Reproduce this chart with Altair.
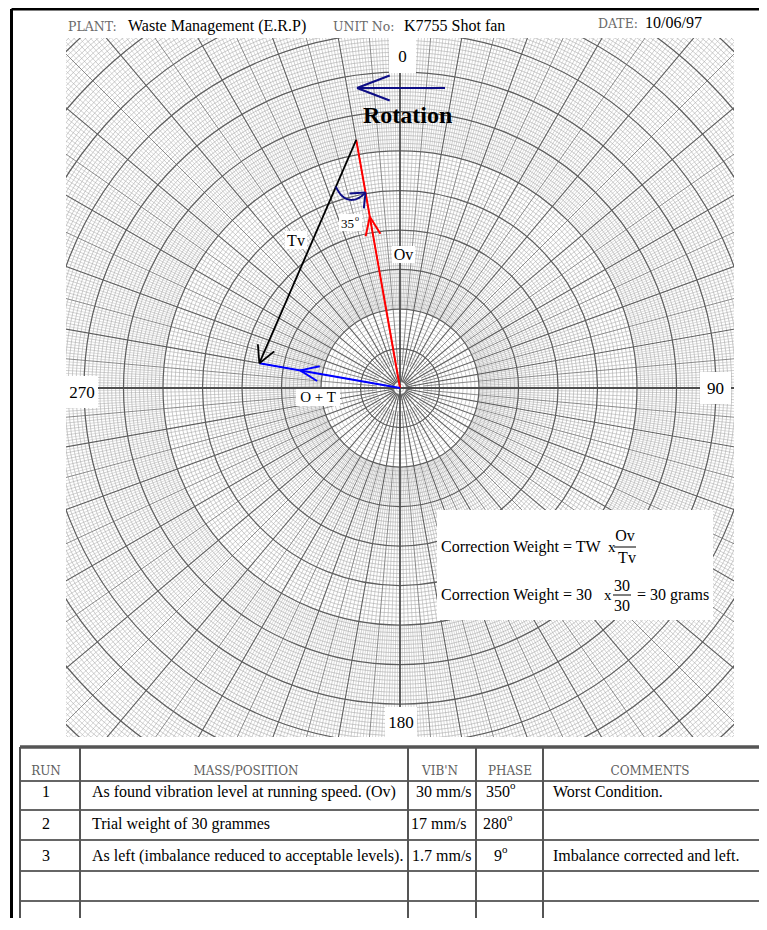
import numpy as np
import pandas as pd
import altair as alt

# ---------------- data ----------------
HEADER_FIELDS = ["PLANT:", "UNIT No:", "DATE:"]
HEADER_VALUES = ["Waste Management (E.R.P)", "K7755 Shot fan", "10/06/97"]
AXIS_ANGLES = [0, 90, 180, 270]
AXIS_LABELS = ["0", "90", "180", "270"]
VECTOR_NAMES = ["Ov", "O + T"]
VECTOR_MAGNITUDES = [30, 17]      # mm/s
VECTOR_PHASES = [350, 280]        # degrees
ROTATION_TEXT = "Rotation"
ANGLE_TEXT = "35"
FORMULA_LINE1 = "Correction Weight = TW"
FORMULA_LINE2 = "Correction Weight = 30"
FRACTION1 = ["Ov", "Tv"]
FRACTION2 = ["30", "30"]
FORMULA_RESULT = "= 30 grams"
TABLE_HEADERS = ["RUN", "MASS/POSITION", "VIB'N", "PHASE", "COMMENTS"]
RUN = ["1", "2", "3"]
MASS_POSITION = ["As found vibration level at running speed. (Ov)",
                 "Trial weight of 30 grammes",
                 "As left (imbalance reduced to acceptable levels)."]
VIBN = ["30 mm/s", "17 mm/s", "1.7 mm/s"]
PHASE = ["350", "280", "9"]
COMMENTS = ["Worst Condition.", "", "Imbalance corrected and left."]

# ---------------- layout ----------------
W, H = 751, 910
PX0, PY0 = 8, 8
CX, CY = 400.0, 388.0
PX_PER_UNIT = 8.4
GRID_L, GRID_R, GRID_T, GRID_B = 66, 734, 38, 737
RING = 39.5
FINE_DIV = 10
R_MAX = 500
SERIF = "Liberation Serif"
GRAYFONT = "DejaVu Serif"

xs = alt.Scale(domain=[PX0, PX0 + W], nice=False, zero=False)
ys = alt.Scale(domain=[PY0, PY0 + H], nice=False, zero=False, reverse=True)


def X(f="x"):
    return alt.X(f"{f}:Q", scale=xs, axis=None)


def Y(f="y"):
    return alt.Y(f"{f}:Q", scale=ys, axis=None)


def polar(r, a):
    a = np.radians(np.asarray(a, dtype=float))
    return CX + r * np.sin(a), CY - r * np.cos(a)


def rules(df, color, width):
    return alt.Chart(df).mark_rule(color=color, strokeWidth=width, opacity=1).encode(
        x=X("x"), y=Y("y"), x2=alt.X2("x2:Q"), y2=alt.Y2("y2:Q"))


def rects(df, color="white"):
    return alt.Chart(df).mark_rect(color=color, opacity=1).encode(
        x=X("x"), x2=alt.X2("x2:Q"), y=Y("y"), y2=alt.Y2("y2:Q"))


def texts(df, size, color="black", font=SERIF, weight="normal", align="left"):
    return alt.Chart(df).mark_text(fontSize=size, color=color, font=font, fontWeight=weight,
                                   align=align, baseline="alphabetic").encode(
        x=X("x"), y=Y("y"), text="t:N")


def rings(radii, color, width):
    r = np.asarray(radii, dtype=float)
    df = pd.DataFrame({"x": CX, "y": CY, "s": (2 * r) ** 2})
    return alt.Chart(df).mark_point(shape="circle", filled=False, color=color,
                                    strokeWidth=width, opacity=1).encode(
        x=X("x"), y=Y("y"), size=alt.Size("s:Q", scale=None, legend=None))


def spokes(angles, r0, r1=R_MAX):
    x0, y0 = polar(r0, angles)
    x1, y1 = polar(r1, angles)
    return pd.DataFrame({"x": x0, "y": y0, "x2": x1, "y2": y1})


def head(ax, ay, dx, dy, L=20, ang=22):
    n = np.hypot(dx, dy)
    ux, uy = dx / n, dy / n
    rows = []
    for s in (1, -1):
        a = np.radians(s * ang)
        bx = -(ux * np.cos(a) - uy * np.sin(a))
        by = -(ux * np.sin(a) + uy * np.cos(a))
        rows.append({"x": ax, "y": ay, "x2": ax + L * bx, "y2": ay + L * by})
    return rows


layers = []

# ---------------- polar grid ----------------
k_all = np.arange(1, int(R_MAX / RING * FINE_DIV) + 1)
fine_r = [RING * k / FINE_DIV for k in k_all if k % FINE_DIV]
heavy_r = [RING * k / FINE_DIV for k in k_all if k % FINE_DIV == 0]
layers.append(rings(fine_r, "#a9a9a9", 0.6))

a_half = np.arange(0, 360, 0.5)
a_half = a_half[(a_half % 1) != 0]
layers.append(rules(spokes(a_half, RING * 6), "#b8b8b8", 0.5))
a_one = np.arange(0, 360, 1)
a_one = a_one[(a_one % 5) != 0]
layers.append(rules(spokes(a_one, RING * 2), "#a8a8a8", 0.55))
a_five = np.arange(5, 360, 10)
layers.append(rules(spokes(a_five, RING * 0.6), "#7e7e7e", 0.9))
a_ten = np.arange(0, 360, 10)
a_ten = a_ten[(a_ten % 90) != 0]
layers.append(rules(spokes(a_ten, 6), "#5e5e5e", 1.1))
layers.append(rings(heavy_r, "#5e5e5e", 1.25))
layers.append(rules(spokes(np.array(AXIS_ANGLES, dtype=float), 0), "#4e4e4e", 1.8))

# mask outside the printed grid
layers.append(rects(pd.DataFrame({
    "x": [PX0, GRID_R, PX0, PX0], "x2": [GRID_L, PX0 + W, PX0 + W, PX0 + W],
    "y": [PY0, PY0, PY0, GRID_B], "y2": [PY0 + H, PY0 + H, GRID_T, PY0 + H]})))

# axis labels (white boxes)
LABEL_BOX = {0: (389, 416, 38, 73), 90: (700, 731, 372, 404),
             180: (385, 417, 707, 737), 270: (66, 98, 376, 408)}
boxes = pd.DataFrame([{"x": LABEL_BOX[a][0], "x2": LABEL_BOX[a][1],
                       "y": LABEL_BOX[a][2], "y2": LABEL_BOX[a][3]} for a in AXIS_ANGLES])
layers.append(rects(boxes))
lab = pd.DataFrame([{"x": (LABEL_BOX[a][0] + LABEL_BOX[a][1]) / 2,
                     "y": (LABEL_BOX[a][2] + LABEL_BOX[a][3]) / 2 + 6, "t": t}
                    for a, t in zip(AXIS_ANGLES, AXIS_LABELS)])
layers.append(texts(lab, 17, align="center"))

# ---------------- rotation arrow ----------------
NAVY = "#0d0d85"
rot = [{"x": 445, "y": 88, "x2": 357, "y2": 88}] + head(357, 88, -1, 0, L=35, ang=21)
layers.append(rules(pd.DataFrame(rot), NAVY, 2))
layers.append(texts(pd.DataFrame({"x": [363], "y": [123], "t": [ROTATION_TEXT]}), 24, weight="bold"))

# ---------------- vectors ----------------
vec = pd.DataFrame({"name": VECTOR_NAMES, "m": VECTOR_MAGNITUDES, "ph": VECTOR_PHASES})
tips = {}
for _, r in vec.iterrows():
    tips[r["name"]] = polar(PX_PER_UNIT * r["m"], r["ph"])
ovx, ovy = (float(v) for v in tips["Ov"])
otx, oty = (float(v) for v in tips["O + T"])

red = [{"x": CX, "y": CY, "x2": ovx, "y2": ovy}]
f = 0.69
red += head(CX + f * (ovx - CX), CY + f * (ovy - CY), ovx - CX, ovy - CY, L=20, ang=22)
layers.append(rules(pd.DataFrame(red), "#ff0000", 2))

blue = [{"x": CX, "y": CY, "x2": otx, "y2": oty}]
f = 0.71
blue += head(CX + f * (otx - CX), CY + f * (oty - CY), otx - CX, oty - CY, L=20, ang=22)
layers.append(rules(pd.DataFrame(blue), "#0000ff", 2))

black = [{"x": ovx, "y": ovy, "x2": otx, "y2": oty}]
black += head(otx, oty, otx - ovx, oty - ovy, L=19, ang=28)
layers.append(rules(pd.DataFrame(black), "#000000", 1.8))

# angle arc between Tv and Ov at the Ov tip
a1 = np.arctan2(oty - ovy, otx - ovx)
a2 = np.arctan2(CY - ovy, CX - ovx)
t = np.linspace(0, 1, 40)
ang = a1 + (a2 - a1) * t
rr = 51 + 2.5 * t + 8 * np.sin(np.pi * t)
arc = pd.DataFrame({"x": ovx + rr * np.cos(ang), "y": ovy + rr * np.sin(ang), "o": np.arange(40)})
layers.append(alt.Chart(arc).mark_line(color=NAVY, strokeWidth=2).encode(
    x=X("x"), y=Y("y"), order="o:Q"))
ex, ey = arc["x"].iloc[-1], arc["y"].iloc[-1]
dx, dy = ex - arc["x"].iloc[-4], ey - arc["y"].iloc[-4]
layers.append(rules(pd.DataFrame(head(ex, ey, dx, dy, L=16, ang=40)), NAVY, 2))

# vector labels with white boxes
lbox = pd.DataFrame({"x": [285, 392, 339, 296], "x2": [307, 415, 362, 340],
                     "y": [231, 246, 214, 389], "y2": [249, 263, 231, 406]})
layers.append(rects(lbox))
layers.append(texts(pd.DataFrame({"x": [296, 403.5], "y": [245.5, 259.5],
                                  "t": ["Tv", "Ov"]}), 16, align="center"))
layers.append(texts(pd.DataFrame({"x": [318], "y": [402], "t": [VECTOR_NAMES[1]]}), 15, align="center"))
layers.append(texts(pd.DataFrame({"x": [341], "y": [228], "t": [ANGLE_TEXT]}), 13))
layers.append(texts(pd.DataFrame({"x": [355], "y": [221], "t": ["o"]}), 8))

# ---------------- formula box ----------------
layers.append(rects(pd.DataFrame({"x": [437], "x2": [713], "y": [510], "y2": [620]})))
layers.append(texts(pd.DataFrame({"x": [441, 441, 637],
                                  "y": [552, 600, 600],
                                  "t": [FORMULA_LINE1, FORMULA_LINE2, FORMULA_RESULT]}), 16))
layers.append(texts(pd.DataFrame({"x": [608, 604], "y": [552, 600], "t": ["x", "x"]}), 15))
layers.append(texts(pd.DataFrame({"x": [625, 627, 622, 622], "y": [541, 563, 591, 611],
                                  "t": FRACTION1 + FRACTION2}), 16, align="center"))
layers.append(rules(pd.DataFrame({"x": [614, 613], "x2": [636, 631], "y": [547, 595], "y2": [547, 595]}),
                    "#000000", 1))

# ---------------- header ----------------
layers.append(texts(pd.DataFrame({"x": [68, 333, 598], "y": [31, 31, 28], "t": HEADER_FIELDS}),
                    12.5, color="#6a6a6a", font=GRAYFONT))
layers.append(texts(pd.DataFrame({"x": [128, 404, 645], "y": [31, 31, 28], "t": HEADER_VALUES}), 16))

# ---------------- table ----------------
TBL_TOP = 747
ROW_LINES = [781, 810, 840, 871, 901]
COL_X = [20, 80, 408, 476, 543]
TBL_BOTTOM = PY0 + H
TGRAY = "#555555"
layers.append(rules(pd.DataFrame({"x": [20], "x2": [PX0 + W], "y": [TBL_TOP], "y2": [TBL_TOP]}), TGRAY, 3.5))
layers.append(rules(pd.DataFrame({"x": [20] * len(ROW_LINES), "x2": [PX0 + W] * len(ROW_LINES),
                                  "y": ROW_LINES, "y2": ROW_LINES}), "#666666", 2.2))
layers.append(rules(pd.DataFrame({"x": COL_X, "x2": COL_X, "y": [TBL_TOP] * 5, "y2": [TBL_BOTTOM] * 5}),
                    TGRAY, 2))
hdr_cx = [46, 246, 440, 510, 650]
layers.append(texts(pd.DataFrame({"x": hdr_cx, "y": [775] * 5, "t": TABLE_HEADERS}), 12,
                    color="#606060", font=GRAYFONT, align="center"))
row_y = [797, 829, 861]
layers.append(texts(pd.DataFrame({"x": [46] * 3, "y": row_y, "t": RUN}), 16, align="center"))
layers.append(texts(pd.DataFrame({"x": [92] * 3, "y": row_y, "t": MASS_POSITION}), 16))
layers.append(texts(pd.DataFrame({"x": [416, 411, 412], "y": row_y, "t": VIBN}), 16))
layers.append(texts(pd.DataFrame({"x": [510, 507, 502], "y": row_y, "t": PHASE}), 16, align="right"))
layers.append(texts(pd.DataFrame({"x": [510, 507, 502], "y": [r - 8 for r in row_y], "t": ["o"] * 3}), 11))
layers.append(texts(pd.DataFrame({"x": [553] * 3, "y": row_y, "t": COMMENTS}), 16))

# ---------------- page border ----------------
layers.append(rules(pd.DataFrame({"x": [11.5, 11.5], "x2": [11.5, PX0 + W], "y": [9, 9], "y2": [PY0 + H, 9]}),
                    "#000000", 3))

chart = alt.layer(*layers).properties(
    width=W, height=H, padding=0, autosize=alt.AutoSizeParams(type="none")
).configure_view(strokeWidth=0)

chart.save("out.html", embed_options={"renderer": "svg", "actions": False})
